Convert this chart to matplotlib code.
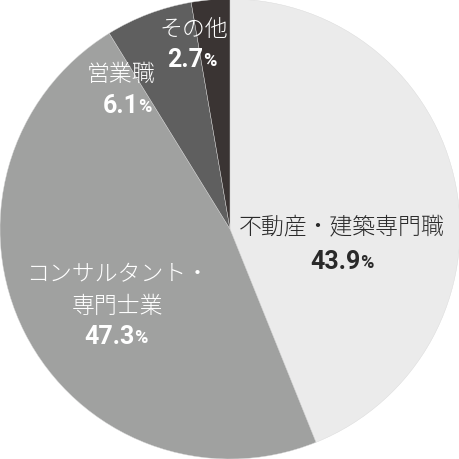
import matplotlib
matplotlib.use("Agg")
import matplotlib.pyplot as plt

categories = ["不動産・建築専門職", "コンサルタント・\n専門士業", "営業職", "その他"]
values = [43.9, 47.3, 6.1, 2.7]
value_labels = ["43.9", "47.3", "6.1", "2.7"]
colors = ["#ebebeb", "#a0a1a0", "#5f5f5f", "#3a3433"]
text_colors = ["#2a2a2a", "#ffffff", "#ffffff", "#ffffff"]

# label anchor positions in pixels (name center, value center)
name_pos = [(342, 227), (118, 291), (121, 74), (194, 29)]
val_pos = [(342, 262), (116, 337), (127, 106), (192, 60)]

W = 460
fig = plt.figure(figsize=(4.6, 4.6), dpi=100)
ax = fig.add_axes([0, 0, 1, 1])
ax.pie(values, colors=colors, startangle=90, counterclock=False,
       radius=1.0, wedgeprops=dict(edgecolor="#d8d8d8", linewidth=0.3))
ax.set_xlim(-1.0, 1.0)
ax.set_ylim(-1.0, 1.0)
ax.set_aspect("equal")
ax.axis("off")

def px(p):
    x, y = p
    return ((x - W / 2) / (W / 2), (W / 2 - y) / (W / 2))

jp = ["Noto Sans CJK JP", "DejaVu Sans"]
renderer = fig.canvas.get_renderer()
for i in range(len(values)):
    nx, ny = px(name_pos[i])
    ax.text(nx, ny, categories[i], ha="center", va="center", fontsize=16.5,
            family=jp, color=text_colors[i], linespacing=1.35, fontweight="light")
    vx, vy = px(val_pos[i])
    t1 = ax.text(vx, vy, value_labels[i], ha="left", va="center", fontsize=18,
                 family="Roboto", fontweight="bold", color=text_colors[i])
    t2 = ax.text(vx, vy, "%", ha="left", va="center", fontsize=13,
                 family="Roboto", fontweight="bold", color=text_colors[i])
    w1 = t1.get_window_extent(renderer).width
    w2 = t2.get_window_extent(renderer).width
    gap = -0.5
    tot = w1 + w2 + gap
    x0 = vx - tot / 2 / (W / 2)
    t1.set_x(x0)
    t2.set_x(x0 + (w1 + gap) / (W / 2))
    t2.set_y(vy - 1.5 / (W / 2))

fig.savefig("out.png", dpi=100, facecolor="white")
